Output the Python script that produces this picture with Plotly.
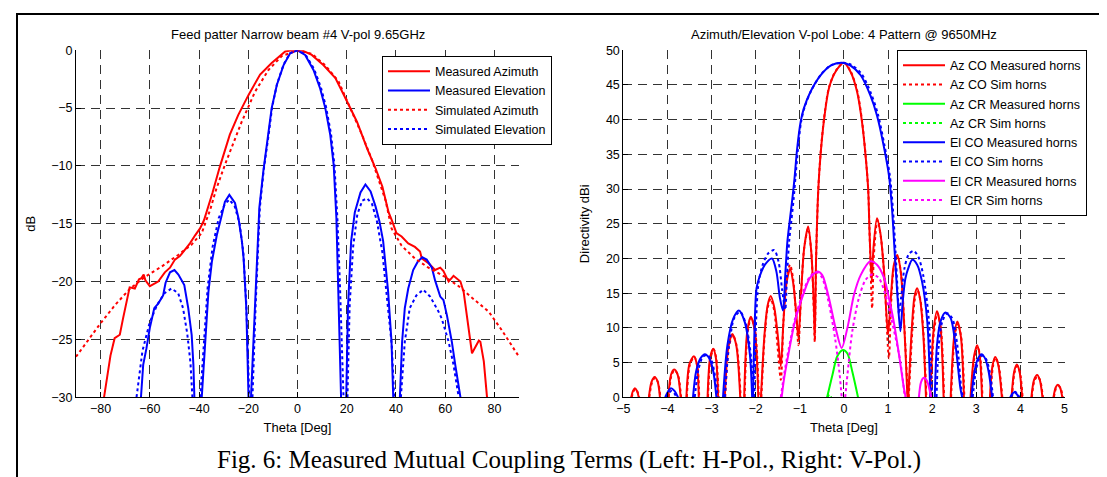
import plotly.graph_objects as go

N = None
# ---------------- Left panel: Feed pattern (dB vs Theta deg) ----------------
az_meas_x = [-78.6, -77.3, -76, -74.3, -72.2, -70.9, -69.1, -68.2, -66.1, -64.4, -63.4, -62.5, -61.8, -60,
             -56.6, -53.9, -51.8, -49.8, -47.8, -46, -43.7, -41.6, -39.6, -38, -36.3, -34.5, -31.6, -27.5,
             -24.1, -20, -15.2, -10.5, -5, -2.3, 1.8, 5.8, 10.6, 15.4, 20.1, 24.2, 28.3, 31.7, 34.5, 35.8,
             37, 38.5, 40.2, 42.3, 45, 47.7, 49.8, 50.5, 53.2, 55.9, 58, 59.3, 61.4, 63.4, 66.2, 67.5, 68.9,
             70.2, 70.9, 73.7, 74.3, 75.7, 77]
az_meas_y = [-30, -28.1, -26.4, -24.9, -24.6, -23.2, -21.2, -20.5, -20.6, -19.8, -19.7, -19.4, -19.9, -20.4,
             -20, -19.2, -18.8, -18.1, -17.8, -17.3, -16.7, -16, -15.4, -14.7, -13.6, -12.3, -10.1, -7.3,
             -5.6, -3.9, -2.1, -1.1, -0.1, 0, 0, -0.4, -1.3, -2.4, -4.4, -6.2, -8.5, -10.2, -11.8, -13,
             -14, -14.8, -15.8, -16.1, -16.7, -17, -17.4, -18, -18.4, -19, -18.8, -19.1, -20, -19.5, -20, -20.9, -23.2,
             -25.5, -26.2, -25.1, -25.2, -26.9, -30]

el_meas_x = [-63.6, -62.7, -61.4, -60, -58.2, -56.6, -54.6, -53.6, -51.8, -50, -48.4, -46, -44.4, -43, -42.3, -41.9, N,
             -38.9, -37.6, -36.2, -34.8, -32.8, -30.7, -29.5, -27.7, -25.4, -24, -22.6, -21.9, -20.8, -19.9, N,
             -18.9, -17.4, -15.5, -13.9, -11.8, -10.5, -8.4, -5.7, -3, 0, 3.1, 6.5, 9.2, 11.3, 13.3, 14.7, 15.8, 16.5, 17.7, N,
             19.8, 20.5, 21.8, 23.3, 25.6, 27.6, 29.7, 31.7, 33.3, 34.8, 36.8, 38.2, 38.9, N,
             41.6, 42.5, 43.6, 45, 47, 48.8, 50.7, 52.5, 54.6, 55.9, 58, 59.3, 60.7, 62.7, 64.1, 66.2]
el_meas_y = [-30, -27.2, -25.8, -24, -22.3, -21.9, -21.2, -20.1, -19.2, -19, -19.4, -20.3, -22.3, -24.6, -27.2, -30, N,
             -30, -25.2, -20.9, -18.3, -16, -14.2, -13.1, -12.5, -13.2, -14.5, -16.5, -18, -22.3, -30, N,
             -30, -22.3, -13.6, -10.5, -7.3, -5, -3, -1.3, -0.26, 0, -0.4, -1.7, -3.3, -5, -7.3, -9.9, -14.5, -20, -30, N,
             -30, -22.3, -16.5, -14, -12.3, -11.6, -12.2, -13.5, -14.8, -16.5, -20.8, -25.2, -30, N,
             -30, -25.2, -22.3, -20.6, -19, -18.3, -17.9, -18.1, -18.8, -19.9, -21.3, -21.6, -22.9, -25.2, -27.2, -30]

az_sim_x = [-90, -85, -80, -74, -68, -62, -55.2, -48.5, -43, -38.9, -35.5, -33, -29.5, -22.7, -17.3, -11.8,
            -6.4, 0, 5.8, 11.3, 16.7, 20.8, 26.2, 30.3, 35.8, 38.2, 42.3, 47.7, 53.2, 60, 65.5, 70.9, 77.7, 83, 90]
az_sim_y = [-26.5, -25.0, -23.6, -22.0, -20.6, -19.6, -18.7, -17.7, -16.8, -15.8, -13.8, -12, -9.9, -6.2, -3.6, -1.7,
            -0.5, 0, -0.3, -1.3, -2.7, -4.7, -7.3, -9.5, -13, -15.4, -16.9, -18, -18.8, -19.6, -20.4, -21.4, -22.6, -24.2, -26.5]

el_sim_x = [-65.4, -63, -60, -57, -54, -51.2, -48.5, -46.5, -44.8, -43.5, -42.7, N,
            -39.5, -38, -36.5, -34.5, -32, -29.5, -27.7, -25.5, -23.5, -22, -20.8, -19.6, N,
            -18.3, -17, -15.3, -13.7, -11.6, -10.3, -8.3, -5.6, -3, 0, 3.2, 6.7, 9.5, 11.6, 13.6, 15, 16.2, 17.2, 18.7, N,
            20.3, 21.2, 22.6, 24.3, 26.3, 28.3, 30.3, 32.3, 34.5, 36.5, 38.3, 39.3, N,
            42, 43.6, 45.6, 48.3, 51.1, 53.9, 57.3, 58.6, 61.4, 63.4, 65.5]
el_sim_y = [-30, -26, -23.5, -22, -21, -20.6, -21, -22.3, -24.5, -27, -30, N,
            -30, -25, -20.5, -17, -14.5, -13.3, -12.9, -13.5, -15, -17.5, -22, -30, N,
            -30, -22, -13.6, -10.3, -7.1, -4.9, -2.9, -1.2, -0.25, 0, -0.35, -1.6, -3.2, -4.9, -7.2, -9.9, -14.5, -20, -30, N,
            -30, -22, -17, -14.2, -13, -12.8, -13.3, -14.8, -17.5, -21.5, -25.5, -30, N,
            -30, -25.2, -22.3, -21.2, -20.7, -21.3, -22.6, -23.2, -25.2, -27.2, -30]

# ---------------- Right panel: Directivity dBi vs Theta deg ----------------
az_co_meas_x = [-4.82, -4.78, -4.74, -4.69, -4.65, N, -4.42, -4.36, -4.29, -4.22, -4.17, N,
                -3.98, -3.92, -3.85, -3.77, -3.70, N, -3.57, -3.5, -3.4, -3.33, -3.29, N,
                -3.09, -3.03, -2.96, -2.9, -2.85, N, -2.70, -2.62, -2.53, -2.44, -2.35, N,
                -2.26, -2.19, -2.11, -2.02, -1.94, N,
                -1.88, -1.8, -1.73, -1.66, -1.58, -1.5, -1.43, -1.37, -1.3, -1.22, -1.15, -1.08, -1.03, -0.97, -0.9,
                -0.81, -0.74, -0.68, -0.66, -0.63, -0.58, -0.53, -0.45, -0.34, -0.19, 0, 0.15, 0.3, 0.41, 0.49, 0.55,
                0.58, 0.63, 0.67, 0.75, 0.83, 0.91, 1.0, 1.06, 1.13, 1.21, 1.29, 1.37, 1.44, N,
                1.46, 1.54, 1.6, 1.66, 1.73, 1.8, 1.86, N, 1.96, 2.03, 2.11, 2.19, 2.26, N,
                2.42, 2.5, 2.57, 2.65, 2.72, N, 2.87, 2.95, 3.02, 3.08, 3.13, N,
                3.31, 3.37, 3.43, 3.5, 3.58, N, 3.8, 3.86, 3.92, 3.98, 4.04, N,
                4.25, 4.31, 4.38, 4.44, 4.5, N, 4.75, 4.8, 4.85, 4.9, 4.95]
az_co_meas_y = [0, 0.9, 1.3, 0.9, 0, N, 0, 2.2, 2.9, 2.2, 0, N,
                0, 3.2, 4.0, 3.3, 0, N, 0, 4.8, 5.9, 4.6, 0, N,
                0, 5.8, 7.0, 5.6, 0, N, 0, 7.2, 9.1, 7.5, 0, N,
                0, 9.5, 11.6, 9.6, 0, N,
                0, 9, 13.2, 14.6, 13, 9, 4.5, 11, 16.5, 18.5, 16.5, 12, 8.5, 15, 21.5,
                24.6, 21, 13, 8.2, 20, 30, 34.9, 40, 44.5, 46.9, 48.2, 46.9, 44, 39.7, 34.9, 30,
                24, 16.7, 21.5, 25.8, 23.5, 18.1, 9, 14, 19, 20.5, 18, 10, 0, N,
                0, 10, 14.5, 15.7, 14, 9, 0, N, 0, 9.5, 12.4, 10, 0, N,
                0, 8.8, 10.9, 8.8, 0, N, 0, 5.9, 7.5, 5.9, 0, N,
                0, 4.6, 5.8, 4.6, 0, N, 0, 3.7, 4.7, 3.7, 0, N,
                0, 2.5, 3.2, 2.5, 0, N, 0, 1.4, 1.8, 1.4, 0]

az_co_sim_x = [-4.81, -4.77, -4.73, -4.68, -4.64, N, -4.41, -4.35, -4.28, -4.21, -4.16, N,
               -3.97, -3.91, -3.84, -3.76, -3.69, N, -3.56, -3.49, -3.39, -3.32, -3.28, N,
               -3.08, -3.02, -2.95, -2.89, -2.84, N, -2.69, -2.61, -2.52, -2.43, -2.34, N,
               -2.25, -2.18, -2.10, -2.01, -1.93, N,
               -1.87, -1.8, -1.73, -1.66, -1.58, -1.5, -1.43, -1.37, -1.3, -1.22, -1.15, -1.08, -1.03, -0.97, -0.9,
               -0.81, -0.74, -0.68, -0.66, -0.63, -0.58, -0.53, -0.45, -0.34, -0.19, 0, 0.15, 0.3, 0.41, 0.49, 0.55,
               0.59, 0.64, 0.68, 0.76, 0.84, 0.92, 1.02, 1.07, 1.14, 1.22, 1.3, 1.38, 1.45, N,
               1.47, 1.55, 1.61, 1.67, 1.74, 1.81, 1.87, N, 1.97, 2.04, 2.12, 2.2, 2.27, N,
               2.43, 2.51, 2.58, 2.66, 2.73, N, 2.88, 2.96, 3.03, 3.09, 3.14, N,
               3.32, 3.38, 3.44, 3.51, 3.59, N, 3.81, 3.87, 3.93, 3.99, 4.05, N,
               4.26, 4.32, 4.39, 4.45, 4.51, N, 4.76, 4.81, 4.86, 4.91, 4.96]
az_co_sim_y = [0, 0.8, 1.2, 0.8, 0, N, 0, 2.1, 2.8, 2.1, 0, N,
               0, 3.1, 3.9, 3.2, 0, N, 0, 4.7, 5.8, 4.5, 0, N,
               0, 5.7, 6.9, 5.5, 0, N, 0, 7.1, 9.0, 7.4, 0, N,
               0, 9.4, 11.5, 9.5, 0, N,
               0, 8.5, 12.8, 14.2, 12.5, 7, 2.5, 11, 17, 19.1, 17, 11.5, 7.5, 15, 21.5,
               24.3, 21, 12, 8, 20, 30, 35, 40.2, 44.6, 47, 48.2, 47, 44.2, 39.9, 35, 30,
               22, 12.8, 20.5, 25.5, 23, 17, 5.6, 13.5, 19, 20.2, 17.5, 9, 0, N,
               0, 9.5, 14.2, 15.4, 13.8, 8.5, 0, N, 0, 9.3, 12.1, 9.8, 0, N,
               0, 8.6, 10.7, 8.6, 0, N, 0, 5.8, 7.3, 5.8, 0, N,
               0, 4.5, 5.7, 4.5, 0, N, 0, 3.6, 4.5, 3.6, 0, N,
               0, 2.4, 3.0, 2.4, 0, N, 0, 1.3, 1.6, 1.3, 0]

az_cr_meas_x = [-0.38, -0.26, -0.15, -0.02, 0.08, 0.19, 0.32]
az_cr_meas_y = [0, 3.2, 5.9, 6.8, 6.3, 3.7, 0]
az_cr_sim_x = [-0.37, -0.33, -0.29]
az_cr_sim_y = [0, 0.4, 0]

el_co_meas_x = [-4.05, -3.98, -3.92, -3.84, -3.76, N,
                -3.42, -3.35, -3.25, -3.15, -3.05, -2.96, -2.89, N,
                -2.74, -2.64, -2.51, -2.38, -2.25, -2.13, -2.08, N,
                -2.06, -2.02, -1.98, -1.91, -1.79, -1.63, -1.53, -1.45, -1.38, -1.33, -1.28, -1.23, -1.17, -1.12,
                -1.06, -0.98, -0.91, -0.76, -0.53, -0.3, -0.05, 0.15, 0.38, 0.6, 0.75, 0.9, 1.02, 1.09, 1.15, 1.22,
                1.28, 1.33, 1.39, 1.46, 1.55, 1.66, 1.77, 1.89, 1.96, N,
                2.06, 2.11, 2.19, 2.3, 2.42, 2.53, 2.64, 2.68, N,
                2.89, 2.96, 3.04, 3.12, 3.2, 3.28, 3.36, N,
                3.77, 3.82, 3.86, 3.91, 3.96]
el_co_meas_y = [0, 0.9, 1.3, 0.9, 0, N,
                0, 3.7, 5.6, 6.2, 5.6, 3.7, 0, N,
                0, 7.5, 11.3, 12.5, 10.9, 6.1, 0, N,
                0, 10.9, 15.7, 17.4, 19.1, 20, 18.1, 14.3, 12.5, 17.5, 22.5, 25.3, 28.5, 31.5,
                35.8, 39.7, 41.6, 44, 46.4, 47.8, 48.2, 47.8, 46.4, 43.5, 40.6, 36.3, 32, 27.2, 21, 14,
                9.5, 13.5, 17, 18.6, 19.8, 19.1, 16.7, 10.9, 0, N,
                0, 7.5, 10.9, 12.2, 11.4, 7.5, 1.3, 0, N,
                0, 3.7, 5.6, 6.2, 5.6, 3.7, 0, N,
                0, 0.5, 0.7, 0.5, 0]

el_co_sim_x = [-4.03, -3.97, -3.91, -3.85, -3.79, N,
               -3.38, -3.3, -3.2, -3.1, -3.0, -2.92, -2.86, N,
               -2.7, -2.6, -2.48, -2.35, -2.22, -2.1, -2.05, N,
               -2.03, -1.99, -1.94, -1.85, -1.72, -1.58, -1.48, -1.40, -1.33, -1.29, -1.24, -1.19, -1.14, -1.1,
               -1.04, -0.97, -0.89, -0.74, -0.51, -0.28, -0.03, 0.17, 0.4, 0.62, 0.77, 0.92, 1.04, 1.11, 1.17, 1.22,
               1.25, 1.3, 1.37, 1.47, 1.58, 1.69, 1.8, 1.92, 2.0, N,
               2.1, 2.15, 2.23, 2.34, 2.46, 2.57, 2.66, 2.7, N,
               2.92, 2.99, 3.07, 3.15, 3.23, 3.31, 3.38, N,
               3.79, 3.84, 3.88, 3.93, 3.98]
el_co_sim_y = [0, 0.6, 0.9, 0.6, 0, N,
               0, 3.9, 5.8, 6.1, 5.3, 3, 0, N,
               0, 7.6, 11.5, 12.3, 10.5, 5.5, 0, N,
               0, 10.9, 16.2, 18.9, 20.7, 21.2, 19.5, 15.5, 12.6, 17.5, 22.5, 25.5, 28.5, 31.5,
               35.8, 39.7, 41.8, 44.2, 46.6, 47.9, 48.2, 47.9, 46.6, 43.7, 40.8, 36.3, 32, 27.2, 21, 15,
               12, 14.5, 18.5, 20.6, 21.1, 20.2, 17.5, 11.5, 0, N,
               0, 7.5, 10.9, 12.1, 11.3, 7.5, 1.3, 0, N,
               0, 3.7, 5.6, 6.0, 5.4, 3.5, 0, N,
               0, 0.6, 0.8, 0.5, 0]

el_cr_meas_x = [-1.41, -1.36, -1.26, -1.11, -0.92, -0.77, -0.6, -0.49, -0.34, -0.19, -0.05, 0.08, 0.23, 0.38,
                0.6, 0.75, 0.91, 1.02, 1.13, 1.25, 1.36, 1.4, N, 1.7, 1.75, 1.81, 1.88, 1.95, 1.98]
el_cr_meas_y = [0, 2.5, 6.1, 10.9, 14.8, 17.2, 18.1, 17.6, 14.3, 10, 7.1, 10, 14.8, 17.6,
                19.6, 19.1, 17.2, 14.3, 10.9, 6.1, 1.3, 0, N, 0, 2.2, 2.8, 2.4, 0.8, 0]
el_cr_sim_x = [-1.43, -1.35, -1.25, -1.1, -0.92, -0.77, -0.62, -0.5, -0.35, -0.2, -0.1, -0.05, N,
               0.03, 0.08, 0.19, 0.34, 0.49, 0.64, 0.79, 0.94, 1.09, 1.28, 1.38]
el_cr_sim_y = [0, 3.5, 7, 11.5, 15.2, 17.4, 18, 17.3, 13.8, 8.5, 3.5, 0, N,
               0, 3.2, 9.5, 14.3, 16.9, 17.7, 17.2, 14.8, 10.9, 5.1, 0]

left_xticks = [-80, -60, -40, -20, 0, 20, 40, 60, 80]
left_yticks = [0, -5, -10, -15, -20, -25, -30]
right_xticks = [-5, -4, -3, -2, -1, 0, 1, 2, 3, 4, 5]
right_yticks = [0, 5, 10, 15, 20, 25, 30, 35, 40, 45, 50]

W, H = 1107, 477
RED, BLUE, GREEN, MAG = "#FF0000", "#0000FF", "#00FF00", "#FF00FF"
FONT = "Liberation Sans, Arial, sans-serif"

fig = go.Figure()

def add(x, y, name, color, dash, xa, ya, legend, shape="linear"):
    fig.add_trace(go.Scatter(
        x=x, y=y, name=name, mode="lines", xaxis=xa, yaxis=ya, legend=legend,
        connectgaps=False,
        line=dict(color=color, width=2, dash=dash, shape=shape, smoothing=0.8 if shape == "spline" else None),
    ))

add(az_meas_x, az_meas_y, "Measured Azimuth", RED, "solid", "x", "y", "legend")
add(el_meas_x, el_meas_y, "Measured Elevation", BLUE, "solid", "x", "y", "legend")
add(az_sim_x, az_sim_y, "Simulated Azimuth", RED, "dot", "x", "y", "legend")
add(el_sim_x, el_sim_y, "Simulated Elevation", BLUE, "dot", "x", "y", "legend")

add(az_co_meas_x, az_co_meas_y, "Az CO Measured horns", RED, "solid", "x2", "y2", "legend2", "spline")
add(az_co_sim_x, az_co_sim_y, "Az CO Sim horns", RED, "dot", "x2", "y2", "legend2", "spline")
add(az_cr_meas_x, az_cr_meas_y, "Az CR Measured horns", GREEN, "solid", "x2", "y2", "legend2", "spline")
add(az_cr_sim_x, az_cr_sim_y, "Az CR Sim horns", GREEN, "dot", "x2", "y2", "legend2", "spline")
add(el_co_meas_x, el_co_meas_y, "El CO Measured horns", BLUE, "solid", "x2", "y2", "legend2", "spline")
add(el_co_sim_x, el_co_sim_y, "El CO Sim horns", BLUE, "dot", "x2", "y2", "legend2", "spline")
add(el_cr_meas_x, el_cr_meas_y, "El CR Measured horns", MAG, "solid", "x2", "y2", "legend2", "spline")
add(el_cr_sim_x, el_cr_sim_y, "El CR Sim horns", MAG, "dot", "x2", "y2", "legend2", "spline")

def px(v):
    return v / W

def py(v):
    return 1 - v / H

grid = dict(showgrid=True, gridcolor="#333333", gridwidth=1, griddash="9px,6px", zeroline=False,
            showline=True, linecolor="black", linewidth=1, ticks="inside", ticklen=5, tickcolor="black",
            tickfont=dict(family=FONT, size=12.5, color="black"), automargin=False)

ydom = [py(389.2), py(42.3)]
leg_common = dict(xanchor="left", yanchor="top", bgcolor="white", bordercolor="black", borderwidth=1,
                  font=dict(family=FONT, size=12.5, color="black"), tracegroupgap=0, itemwidth=42)
fig.update_layout(
    width=W, height=H, margin=dict(l=0, r=0, t=0, b=0),
    paper_bgcolor="white", plot_bgcolor="white",
    font=dict(family=FONT, size=13, color="black"),
    xaxis=dict(domain=[px(68), px(511)], range=[-90, 90], tickvals=left_xticks, anchor="y",
               title=dict(text="Theta [Deg]", standoff=7, font=dict(size=13)), **grid),
    yaxis=dict(domain=ydom, range=[-30, 0], tickvals=left_yticks, anchor="x",
               title=dict(text="dB", standoff=12, font=dict(size=13)), **grid),
    xaxis2=dict(domain=[px(615.3), px(1056.5)], range=[-5, 5], tickvals=right_xticks, anchor="y2",
                title=dict(text="Theta [Deg]", standoff=7, font=dict(size=13)), **grid),
    yaxis2=dict(domain=ydom, range=[0, 50], tickvals=right_yticks, anchor="x2",
                title=dict(text="Directivity dBi", standoff=13, font=dict(size=13)), **grid),
    legend=dict(x=px(374), y=py(47.7), **leg_common),
    legend2=dict(x=px(889), y=py(41.5), **leg_common),
    showlegend=True,
    annotations=[
        dict(text="Feed patter Narrow beam #4 V-pol 9.65GHz", x=px(289.5), y=py(26.7), xref="paper", yref="paper",
             showarrow=False, xanchor="center", yanchor="middle", font=dict(family=FONT, size=13)),
        dict(text="Azimuth/Elevation V-pol Lobe: 4 Pattern @ 9650MHz", x=px(835.8), y=py(26.7), xref="paper",
             yref="paper", showarrow=False, xanchor="center", yanchor="middle", font=dict(family=FONT, size=13)),
        dict(text="Fig. 6: Measured Mutual Coupling Terms (Left: H-Pol., Right: V-Pol.)", x=px(561), y=py(451.7),
             xref="paper", yref="paper", showarrow=False, xanchor="center", yanchor="middle",
             font=dict(family="Liberation Serif, Times New Roman, serif", size=25)),
    ],
    shapes=[
        dict(type="rect", xref="paper", yref="paper", x0=px(9), x1=px(1101), y0=-0.02, y1=py(6),
             line=dict(color="black", width=2), fillcolor="rgba(0,0,0,0)", layer="above"),
    ],
)

fig.write_html("out.html")
